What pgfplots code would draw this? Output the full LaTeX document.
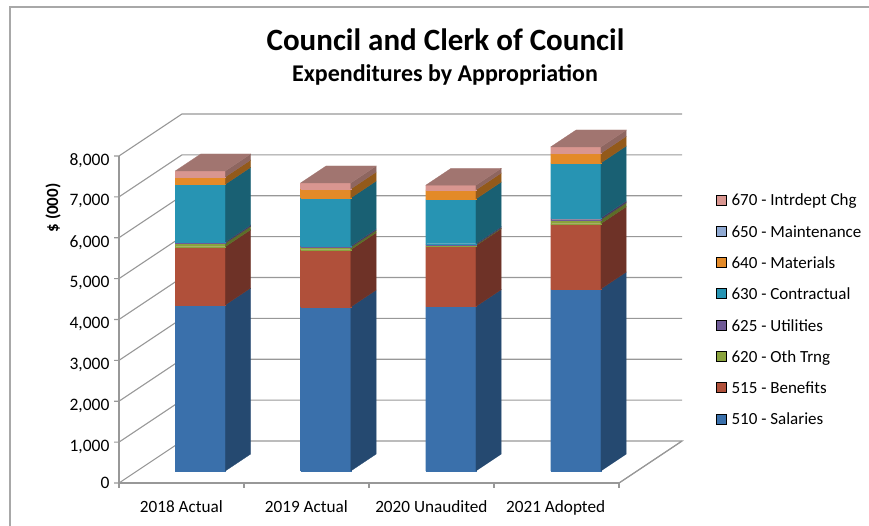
\documentclass[border=0pt]{standalone}
\usepackage{pgfplots}
\pgfplotsset{compat=1.18}
\usepackage{fontspec}
\setmainfont{Carlito}
\definecolor{rulegray}{HTML}{989898}
\definecolor{salF}{HTML}{3A70AB}\definecolor{salS}{HTML}{254970}
\definecolor{benF}{HTML}{B0503A}\definecolor{benS}{HTML}{6E3227}
\definecolor{othF}{HTML}{8AA33D}\definecolor{othS}{HTML}{5B6E28}
\definecolor{utiF}{HTML}{6F5A96}\definecolor{utiS}{HTML}{483A63}
\definecolor{conF}{HTML}{2794B3}\definecolor{conS}{HTML}{196073}
\definecolor{matF}{HTML}{E38A28}\definecolor{matS}{HTML}{935A1A}
\definecolor{mntF}{HTML}{8FA9D2}
\definecolor{intF}{HTML}{D99690}\definecolor{intS}{HTML}{8E6660}\definecolor{intT}{HTML}{A17570}

% depth of the bars along the floor
\def\dA{0.286}\def\dB{0.69}
% one stacked segment: x0, x1, z0, z1, front colour, side colour
\newcommand{\segment}[6]{%
  \addplot3[forget plot,no markers,fill=#5,draw=#5,line width=0.2pt] coordinates {(#1,\dA,#3) (#2,\dA,#3) (#2,\dA,#4) (#1,\dA,#4) (#1,\dA,#3)};
  \addplot3[forget plot,no markers,fill=#6,draw=#6,line width=0.2pt] coordinates {(#2,\dA,#3) (#2,\dB,#3) (#2,\dB,#4) (#2,\dA,#4) (#2,\dA,#3)};
}
% a full column: x0, x1, then the running top of every expenditure class
\newcommand{\stackedbar}[9]{%
  \def\xa{#1}\def\xb{#2}%
  \segment{\xa}{\xb}{0}{#3}{salF}{salS}
  \segment{\xa}{\xb}{#3}{#4}{benF}{benS}
  \segment{\xa}{\xb}{#4}{#5}{othF}{othS}
  \segment{\xa}{\xb}{#5}{#6}{utiF}{utiS}
  \segment{\xa}{\xb}{#6}{#7}{conF}{conS}
  \segment{\xa}{\xb}{#7}{#8}{matF}{matS}
  \segment{\xa}{\xb}{#8}{#9}{intF}{intS}
  \addplot3[forget plot,no markers,fill=intT,draw=intT,line width=0.2pt] coordinates {(\xa,\dA,#9) (\xb,\dA,#9) (\xb,\dB,#9) (\xa,\dB,#9) (\xa,\dA,#9)};
}
% gridline around the left and back walls, with its tick on the value axis
\newcommand{\wallline}[1]{%
  \addplot3[forget plot,no markers,rulegray,line width=1.1pt] coordinates {(-0.04,0,#1) (0,0,#1) (0,1,#1) (4,1,#1)};
}
% tick below the category axis
\newcommand{\cattick}[1]{%
  \addplot3[forget plot,no markers,rulegray,line width=1.1pt] coordinates {(#1,0,0) (#1,0,-122)};
}

\begin{document}
\begin{tikzpicture}[x=1pt,y=1pt]
\path[use as bounding box] (0,0) rectangle (869,525);
% outer chart frame
\draw[rulegray!85,line width=1.1pt] (10,-5) -- (10,518) -- (875,518);
\node[font=\bfseries\fontsize{31}{31}\selectfont,anchor=center] at (445.5,485) {Council and Clerk of Council};
\node[font=\bfseries\fontsize{24}{24}\selectfont,anchor=center] at (445,450) {Expenditures by Appropriation};
\node[font=\bfseries\fontsize{17}{17}\selectfont,rotate=90,anchor=center] at (53,317) {\$ (000)};
\begin{axis}[
  at={(119pt,42pt)},anchor=origin,
  x={(125pt,0pt)},y={(63pt,42pt)},z={(0pt,0.040875pt)},
  xmin=0,xmax=4,ymin=0,ymax=1,zmin=0,zmax=8000,
  clip=false,
  axis lines*=left,
  axis line style={rulegray,line width=1.1pt},
  major tick length=0pt,
  xtick=\empty,
  extra x ticks={0.5,1.5,2.5,3.5},
  extra x tick labels={2018 Actual,2019 Actual,2020 Unaudited,2021 Adopted},
  extra x tick style={tick label style={font=\fontsize{17.2}{17.2}\selectfont,xshift=5pt,yshift=-14pt}},
  ytick=\empty,
  ztick={0,1000,2000,3000,4000,5000,6000,7000,8000},
  scaled z ticks=false,
  z tick label style={font=\fontsize{17.5}{17.5}\selectfont,xshift=-6pt,yshift=2.5pt},
  /pgf/number format/assume math mode=true,
  /pgf/number format/1000 sep={,},
  legend style={draw=none,fill=none,at={(axis description cs:1,1)},anchor=north west,
    xshift=34pt,yshift=-78pt,
    font=\fontsize{17}{17}\selectfont,row sep=14pt,column sep=3pt,inner sep=0pt},
  legend cell align=left,
  legend image code/.code={\fill[#1] (0pt,-4pt) rectangle (10pt,6pt);},
]
% walls and floor
\wallline{1000}\wallline{2000}\wallline{3000}\wallline{4000}
\wallline{5000}\wallline{6000}\wallline{7000}\wallline{8000}
\addplot3[forget plot,no markers,rulegray,line width=1.1pt] coordinates {(-0.04,0,0) (0,0,0) (0,1,0) (4,1,0) (4,0,0)};
\cattick{0}\cattick{1}\cattick{2}\cattick{3}\cattick{4}

\stackedbar{0.306}{0.706}{4061}{5487}{5571}{5603}{7014}{7193}{7340}
\stackedbar{1.308}{1.710}{4012}{5414}{5473}{5505}{6679}{6899}{7046}
\stackedbar{2.309}{2.711}{4024}{5512}{5529}{5561}{6654}{6875}{6990}
\stackedbar{3.309}{3.711}{4453}{6050}{6148}{6190}{7535}{7772}{7927}

\addlegendimage{fill=intF}\addlegendentry{670 - Intrdept Chg}
\addlegendimage{fill=mntF}\addlegendentry{650 - Maintenance}
\addlegendimage{fill=matF}\addlegendentry{640 - Materials}
\addlegendimage{fill=conF}\addlegendentry{630 - Contractual}
\addlegendimage{fill=utiF}\addlegendentry{625 - Utilities}
\addlegendimage{fill=othF}\addlegendentry{620 - Oth Trng}
\addlegendimage{fill=benF}\addlegendentry{515 - Benefits}
\addlegendimage{fill=salF}\addlegendentry{510 - Salaries}
\end{axis}
\end{tikzpicture}
\end{document}
